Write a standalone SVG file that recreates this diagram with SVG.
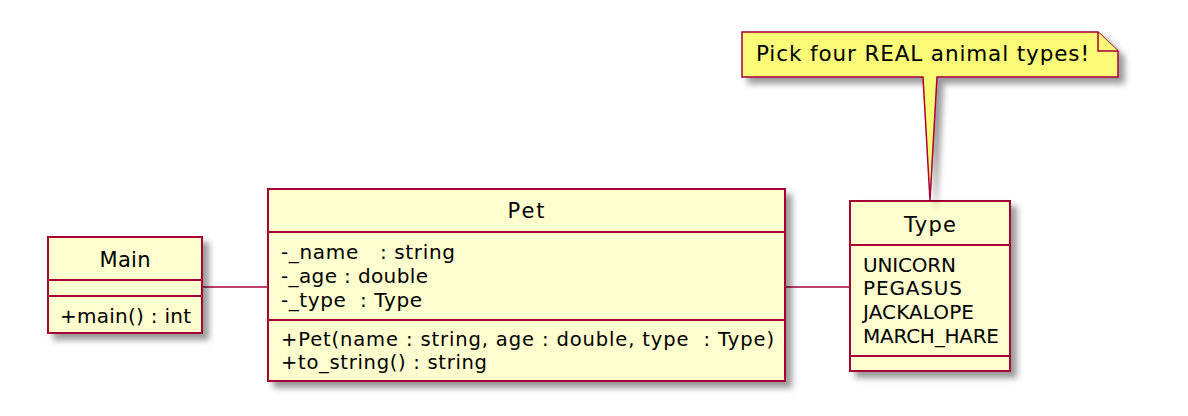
<svg xmlns="http://www.w3.org/2000/svg" width="1188" height="416" viewBox="0 0 1188 416">
<style>
text{font-family:"DejaVu Sans","Liberation Sans",sans-serif;fill:#000;white-space:pre}
.cls{fill:#FEFECE;stroke:#A80036;stroke-width:2}
.div{stroke:#A80036;stroke-width:2;fill:none}
.note{fill:#FBFB77;stroke:#A80036;stroke-width:1.5}
.name{font-size:21px;text-anchor:middle}
.mem{font-size:20px}
.meth{font-size:19.5px}
.ntext{font-size:21.5px}
.link{stroke:#A80036;stroke-width:1.5;fill:none}
</style>
<defs>
<filter id="sh" x="-20%" y="-20%" width="150%" height="150%">
<feGaussianBlur in="SourceAlpha" stdDeviation="3" result="b"/>
<feColorMatrix in="b" type="matrix" values="0 0 0 0 0  0 0 0 0 0  0 0 0 0 0  0 0 0 .4 0" result="b2"/>
<feOffset in="b2" dx="6" dy="6" result="b3"/>
<feMerge><feMergeNode in="b3"/><feMergeNode in="SourceGraphic"/></feMerge>
</filter>
</defs>
<rect width="1188" height="416" fill="#FFFFFF"/>

<g id="connectors">
<path class="link" d="M202,287 H268"/>
<path class="link" d="M785,287 H850"/>
</g>

<g id="Main">
<rect class="cls" x="48" y="237" width="154" height="96" filter="url(#sh)"/>
<path class="div" d="M48,280 H202 M48,296 H202"/>
<text class="name" x="125" y="267" textLength="51" lengthAdjust="spacing">Main</text>
<text class="mem" x="60" y="323" textLength="131" lengthAdjust="spacing">+main() : int</text>
</g>

<g id="Pet">
<rect class="cls" x="268" y="189" width="517" height="192" filter="url(#sh)"/>
<path class="div" d="M268,232 H785 M268,320 H785"/>
<text class="name" x="526" y="218" textLength="37" lengthAdjust="spacing">Pet</text>
<text class="mem" x="281" y="259" textLength="174" lengthAdjust="spacing">-_name   : string</text>
<text class="mem" x="281" y="283" textLength="147" lengthAdjust="spacing">-_age : double</text>
<text class="mem" x="281" y="307" textLength="141" lengthAdjust="spacing">-_type  : Type</text>
<text class="meth" x="281" y="346" textLength="493" lengthAdjust="spacing">+Pet(name : string, age : double, type  : Type)</text>
<text class="meth" x="281" y="369" textLength="206" lengthAdjust="spacing">+to_string() : string</text>
</g>

<g id="Type">
<rect class="cls" x="850" y="201" width="160" height="170" filter="url(#sh)"/>
<path class="div" d="M850,245 H1010 M850,356 H1010"/>
<text class="name" x="930" y="232" textLength="52" lengthAdjust="spacing">Type</text>
<text class="mem" x="863" y="272" textLength="93" lengthAdjust="spacing">UNICORN</text>
<text class="mem" x="863" y="295" textLength="99" lengthAdjust="spacing">PEGASUS</text>
<text class="mem" x="863" y="319" textLength="111" lengthAdjust="spacing">JACKALOPE</text>
<text class="mem" x="863" y="343" textLength="136" lengthAdjust="spacing">MARCH_HARE</text>
</g>

<g id="note">
<path class="note" d="M742,32 L1098,32 L1118,51 L1118,77 L937,77 L930,200 L923,77 L742,77 Z" filter="url(#sh)"/>
<path class="note" d="M1098,32 L1098,51 L1118,51"/>
<text class="ntext" x="756" y="61" textLength="333" lengthAdjust="spacing">Pick four REAL animal types!</text>
</g>
</svg>
